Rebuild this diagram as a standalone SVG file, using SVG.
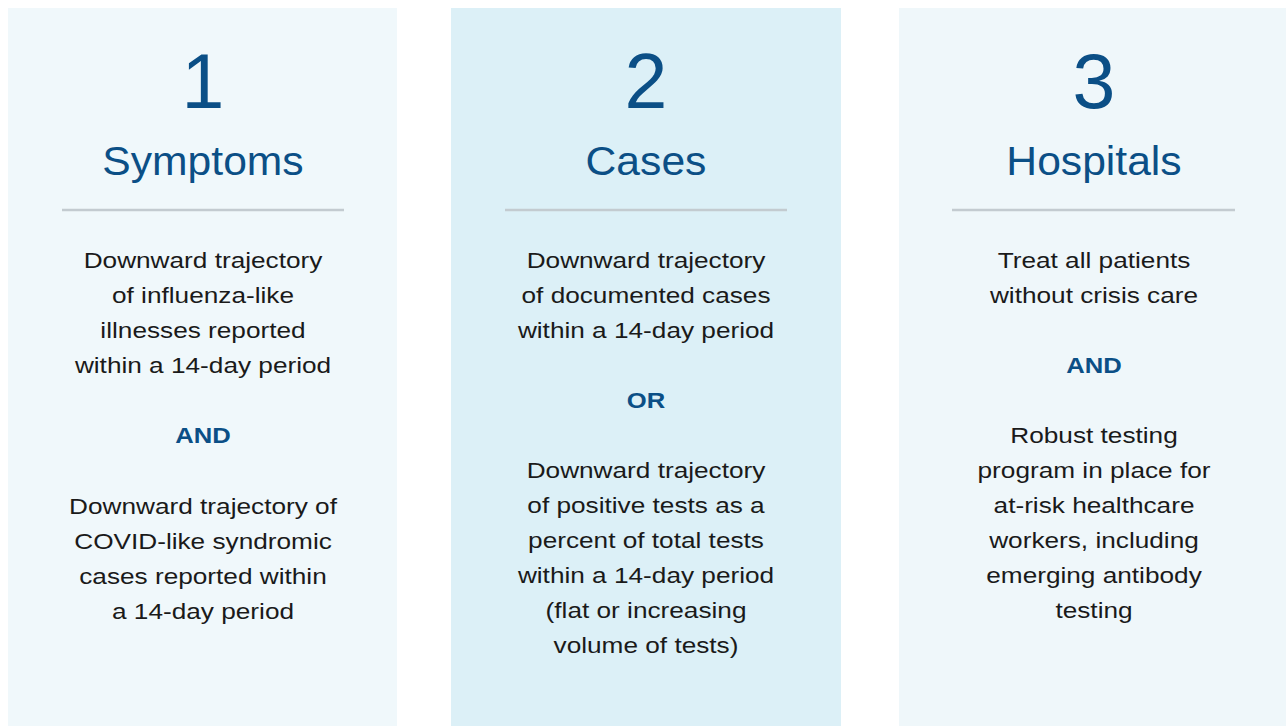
<svg xmlns="http://www.w3.org/2000/svg" width="1286" height="726" viewBox="0 0 1286 726">
<style>
.num{font-family:"Liberation Sans",Arial,sans-serif;font-size:77px;fill:#0b4f86;text-anchor:middle}
.ttl{font-family:"Liberation Sans",Arial,sans-serif;font-size:41px;fill:#0b4f86;text-anchor:middle}
.txt{font-family:"Liberation Sans",Arial,sans-serif;font-size:22.5px;fill:#1a1a1a;text-anchor:middle}
.cj{font-family:"Liberation Sans",Arial,sans-serif;font-size:22px;font-weight:bold;fill:#0b4f86;text-anchor:middle}
.rule{stroke:#c3cbd0;stroke-width:2.5}
</style>
<rect width="1286" height="726" fill="#ffffff"/>
<g id="panel-1">
<rect x="8" y="8" width="389" height="718" fill="#f0f8fb"/>
<text class="num" x="203" y="108">1</text>
<text class="ttl" transform="translate(203,175) scale(1.04,1)" x="0" y="0">Symptoms</text>
<line class="rule" x1="62" y1="210" x2="344" y2="210"/>
<g transform="translate(203,0) scale(1.165,1)">
<text class="txt" x="0" y="268">Downward trajectory</text>
<text class="txt" x="0" y="303">of influenza-like</text>
<text class="txt" x="0" y="338">illnesses reported</text>
<text class="txt" x="0" y="373">within a 14-day period</text>
<text class="cj" x="0" y="443">AND</text>
<text class="txt" x="0" y="514">Downward trajectory of</text>
<text class="txt" x="0" y="549">COVID-like syndromic</text>
<text class="txt" x="0" y="584">cases reported within</text>
<text class="txt" x="0" y="619">a 14-day period</text>
</g>
</g>
<g id="panel-2">
<rect x="451" y="8" width="390" height="718" fill="#dcf0f7"/>
<text class="num" x="646" y="108">2</text>
<text class="ttl" transform="translate(646,175) scale(1.04,1)" x="0" y="0">Cases</text>
<line class="rule" x1="505" y1="210" x2="787" y2="210"/>
<g transform="translate(646,0) scale(1.165,1)">
<text class="txt" x="0" y="268">Downward trajectory</text>
<text class="txt" x="0" y="303">of documented cases</text>
<text class="txt" x="0" y="338">within a 14-day period</text>
<text class="cj" x="0" y="408">OR</text>
<text class="txt" x="0" y="478">Downward trajectory</text>
<text class="txt" x="0" y="513">of positive tests as a</text>
<text class="txt" x="0" y="548">percent of total tests</text>
<text class="txt" x="0" y="583">within a 14-day period</text>
<text class="txt" x="0" y="618">(flat or increasing</text>
<text class="txt" x="0" y="653">volume of tests)</text>
</g>
</g>
<g id="panel-3">
<rect x="899" y="8" width="387" height="718" fill="#eff7fa"/>
<text class="num" x="1094" y="108">3</text>
<text class="ttl" transform="translate(1094,175) scale(1.04,1)" x="0" y="0">Hospitals</text>
<line class="rule" x1="952" y1="210" x2="1235" y2="210"/>
<g transform="translate(1094,0) scale(1.165,1)">
<text class="txt" x="0" y="268">Treat all patients</text>
<text class="txt" x="0" y="303">without crisis care</text>
<text class="cj" x="0" y="373">AND</text>
<text class="txt" x="0" y="443">Robust testing</text>
<text class="txt" x="0" y="478">program in place for</text>
<text class="txt" x="0" y="513">at-risk healthcare</text>
<text class="txt" x="0" y="548">workers, including</text>
<text class="txt" x="0" y="583">emerging antibody</text>
<text class="txt" x="0" y="618">testing</text>
</g>
</g>
<g id="connectors"/>
</svg>
